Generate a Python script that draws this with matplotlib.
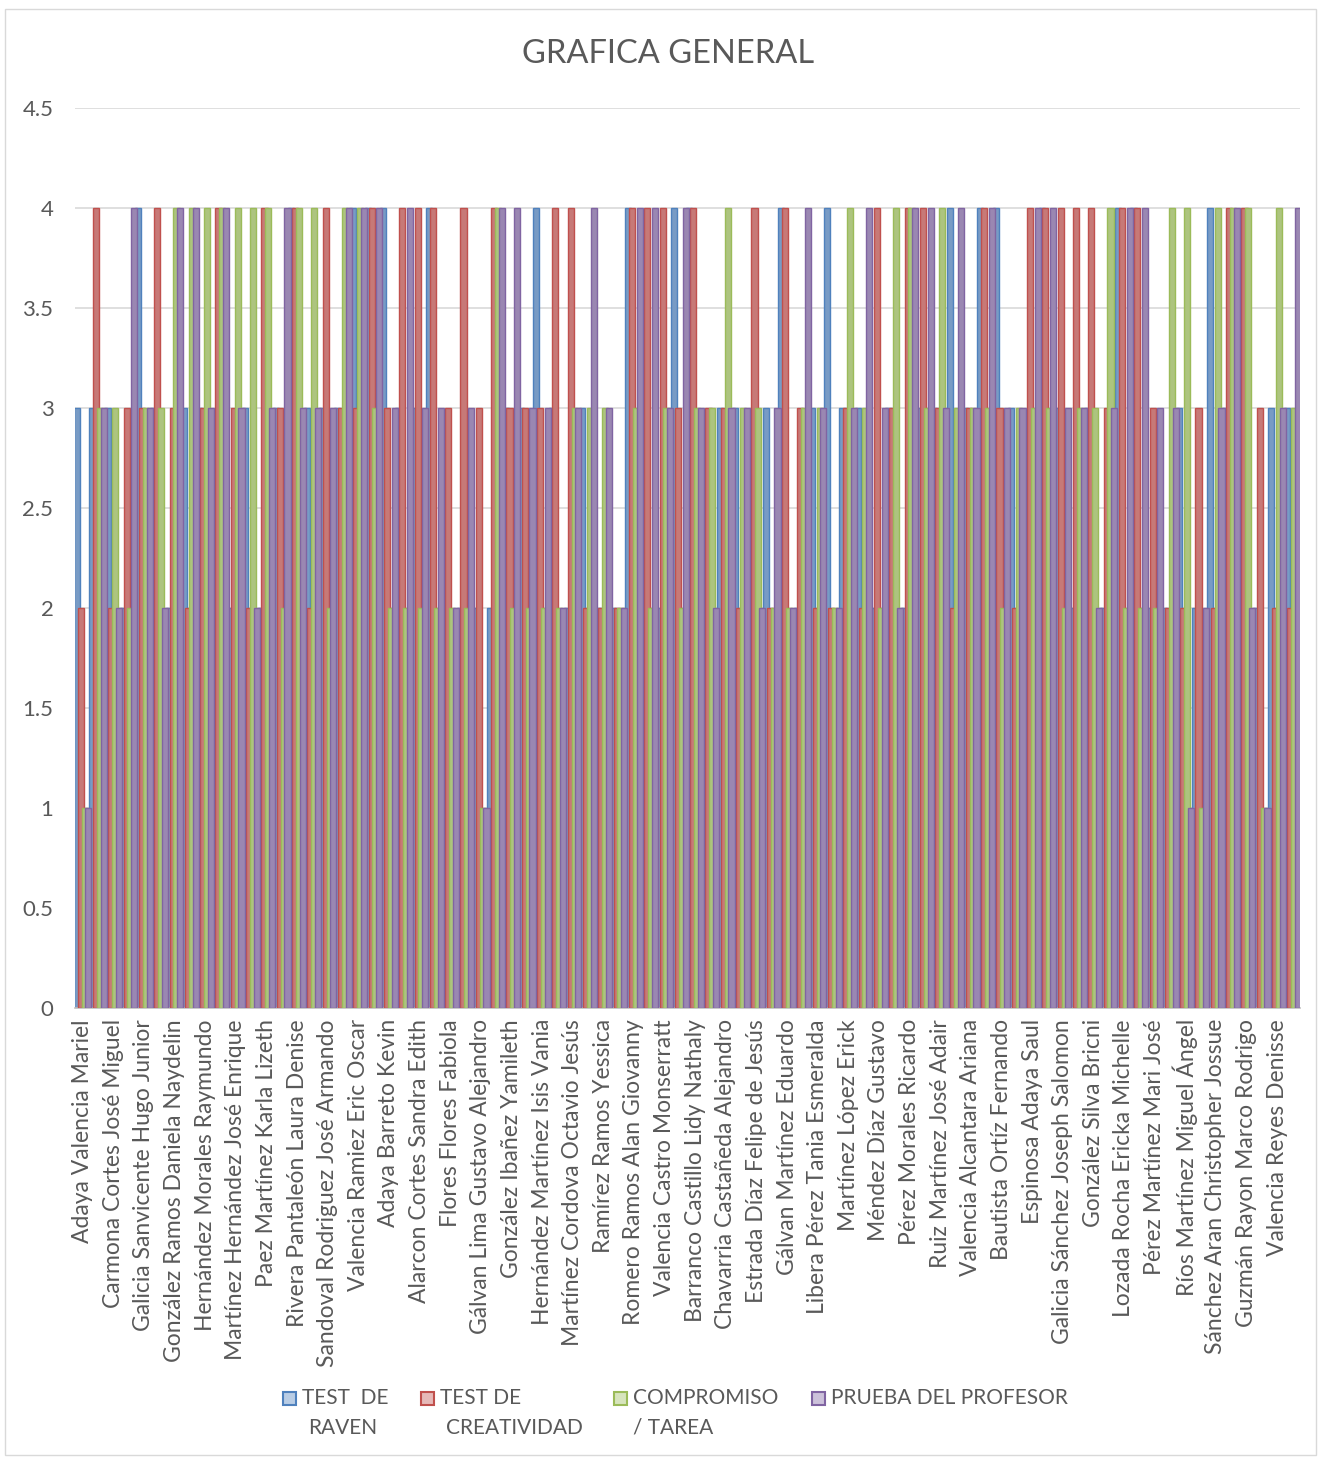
import numpy as np
import matplotlib
matplotlib.use('Agg')
import matplotlib.pyplot as plt
from matplotlib.patches import Rectangle
from matplotlib.colors import to_rgb

plt.rcParams['font.family'] = ['Lato', 'DejaVu Sans']

# names shown on the axis (every second student gets a label)
shown_names = [
    'Adaya Valencia Mariel', 'Carmona Cortes José Miguel', 'Galicia Sanvicente Hugo Junior',
    'González Ramos Daniela Naydelin', 'Hernández Morales Raymundo', 'Martínez Hernández José Enrique',
    'Paez Martínez Karla Lizeth', 'Rivera Pantaleón Laura Denise', 'Sandoval Rodriguez José Armando',
    'Valencia Ramiez Eric Oscar', 'Adaya Barreto Kevin', 'Alarcon Cortes Sandra Edith',
    'Flores Flores Fabiola', 'Gálvan Lima Gustavo Alejandro', 'González Ibañez Yamileth',
    'Hernández Martínez Isis Vania', 'Martínez Cordova Octavio Jesús', 'Ramírez Ramos Yessica',
    'Romero Ramos Alan Giovanny', 'Valencia Castro Monserratt', 'Barranco Castillo Lidy Nathaly',
    'Chavarria Castañeda Alejandro', 'Estrada Díaz Felipe de Jesús', 'Gálvan Martínez Eduardo',
    'Libera Pérez Tania Esmeralda', 'Martínez López Erick', 'Méndez Díaz Gustavo',
    'Pérez Morales Ricardo', 'Ruiz Martínez José Adair', 'Valencia Alcantara Ariana',
    'Bautista Ortíz Fernando', 'Espinosa Adaya Saul', 'Galicia Sánchez Joseph Salomon',
    'González Silva Bricni', 'Lozada Rocha Ericka Michelle', 'Pérez Martínez Mari José',
    'Ríos Martínez Miguel Ángel', 'Sánchez Aran Christopher Jossue', 'Guzmán Rayon Marco Rodrigo',
    'Valencia Reyes Denisse',
]

raven = [3, 3, 3, 2, 4, 3, 2, 3, 3, 2, 2, 3, 2, 3, 4, 3, 3, 3, 4, 4,
         4, 3, 3, 4, 2, 2, 2, 2, 3, 3, 4, 3, 2, 3, 2, 2, 4, 3, 2, 4,
         4, 2, 3, 3, 2, 3, 4, 2, 3, 4, 3, 3, 2, 3, 2, 3, 3, 4, 3, 4,
         4, 3, 2, 4, 3, 2, 3, 2, 4, 4, 2, 2, 3, 2, 4, 3, 3, 2, 3, 3]
creatividad = [2, 4, 2, 3, 3, 4, 3, 2, 3, 4, 3, 2, 4, 3, 4, 2, 4, 3, 3, 4,
               3, 4, 4, 4, 3, 4, 3, 4, 3, 3, 3, 4, 4, 2, 2, 2, 4, 4, 4, 3,
               4, 3, 3, 2, 4, 2, 4, 3, 2, 2, 3, 2, 4, 3, 4, 4, 3, 2, 3, 4,
               3, 2, 4, 4, 4, 4, 4, 3, 4, 4, 3, 2, 2, 3, 2, 4, 4, 3, 2, 2]
compromiso = [1, 3, 3, 2, 3, 3, 4, 4, 4, 4, 4, 4, 4, 2, 4, 4, 2, 4, 4, 3,
              2, 2, 2, 2, 2, 2, 1, 4, 2, 2, 2, 2, 3, 3, 3, 2, 3, 2, 3, 2,
              3, 3, 4, 3, 3, 2, 2, 3, 3, 2, 4, 3, 2, 4, 4, 3, 4, 3, 3, 3,
              2, 3, 3, 3, 2, 3, 3, 4, 2, 2, 2, 4, 4, 1, 4, 4, 4, 1, 4, 3]
profesor = [1, 3, 2, 4, 3, 2, 4, 4, 3, 4, 3, 2, 3, 4, 3, 3, 3, 4, 4, 4,
            3, 4, 3, 3, 2, 3, 1, 4, 4, 3, 3, 2, 3, 4, 3, 2, 4, 4, 3, 4,
            3, 2, 3, 3, 2, 3, 2, 4, 3, 2, 3, 4, 3, 2, 4, 4, 3, 4, 3, 4,
            3, 3, 4, 4, 3, 3, 2, 3, 4, 4, 3, 3, 1, 2, 3, 4, 2, 1, 3, 4]

series = [raven, creatividad, compromiso, profesor]
legend_lines = [('TEST  DE', 'RAVEN'), ('TEST DE', 'CREATIVIDAD'), ('COMPROMISO', '/ TAREA'),
                ('PRUEBA DEL PROFESOR', '')]
colors = ['#4F81BD', '#C0504D', '#9BBB59', '#8064A2']


def blend(c, other, f):
    r, g, b = to_rgb(c)
    r2, g2, b2 = to_rgb(other)
    return (r + (r2 - r) * f, g + (g2 - g) * f, b + (b2 - b) * f)


txt = '#595959'
W, H = 1321, 1461
fig = plt.figure(figsize=(W / 100, H / 100), dpi=100)
ax = fig.add_axes([75 / W, 1 - 1008 / H, 1225 / W, 900 / H])

n = len(raven)
x = np.arange(n)
step = 0.25
w = 0.4
for k, vals in enumerate(series):
    ax.bar(x + (k - 1.5) * step, vals, width=w, color=blend(colors[k], '#D8D8D8', 0.3),
           edgecolor=colors[k], linewidth=1.0, zorder=2 + k)

ax.set_xlim(-0.5, n - 0.5)
ax.set_ylim(0, 4.5)
ax.set_yticks(np.arange(0, 4.51, 0.5))
ax.set_yticklabels(['0', '0.5', '1', '1.5', '2', '2.5', '3', '3.5', '4', '4.5'])
ax.yaxis.grid(True, color='#D9D9D9', linewidth=1.2, zorder=0)
ax.set_axisbelow(True)
ax.set_xticks(x[::2])
ax.set_xticklabels(shown_names, rotation=90, fontsize=16.5, color=txt)
ax.tick_params(axis='y', labelsize=16, colors=txt, length=0, pad=15.5)
ax.tick_params(axis='x', length=0, pad=8)
for s in ['top', 'right', 'left']:
    ax.spines[s].set_visible(False)
ax.spines['bottom'].set_color('#BFBFBF')
ax.spines['bottom'].set_linewidth(1.2)

fig.text(668 / W, 1 - 54 / H, 'GRAFICA GENERAL', ha='center', va='center', fontsize=23.5, color=txt)

# legend drawn by hand: square + two text lines
leg_x = [283, 421, 614, 812]
sub_x = [308, 446, 633, 831]
for k in range(4):
    fig.patches.append(Rectangle((leg_x[k] / W, 1 - 1405 / H), 13 / W, 13 / H, transform=fig.transFigure,
                                 facecolor=blend(colors[k], '#FFFFFF', 0.6), edgecolor=colors[k],
                                 linewidth=1.5))
    fig.text((leg_x[k] + 19) / W, 1 - 1398 / H, legend_lines[k][0], ha='left', va='center',
             fontsize=15, color=txt)
    fig.text(sub_x[k] / W, 1 - 1428 / H, legend_lines[k][1], ha='left', va='center',
             fontsize=15, color=txt)

fig.patches.append(Rectangle((5 / W, 6 / H), 1311 / W, 1446 / H, transform=fig.transFigure,
                             fill=False, edgecolor='#D9D9D9', linewidth=1))

plt.savefig('out.png', dpi=100)
